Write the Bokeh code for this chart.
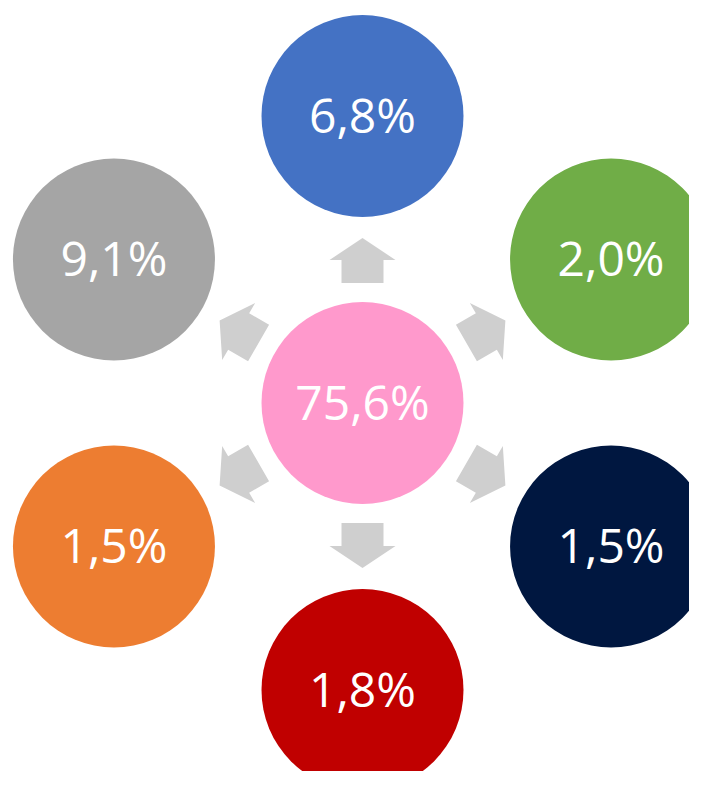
import math
from bokeh.plotting import figure
from bokeh.models import Range1d, ColumnDataSource
from bokeh.core.properties import value
from bokeh.embed import file_html
from bokeh.resources import INLINE

# ---- data ----
center_label_value = 75.6
center_color = "#FF99CC"
outer_values = [6.8, 2.0, 1.5, 1.8, 1.5, 9.1]
outer_colors = ["#4472C4", "#70AD47", "#001740", "#C00000", "#ED7D31", "#A5A5A5"]
outer_angles = [90, 30, -30, -90, -150, 150]

# ---- layout (image pixel space, y flipped) ----
CX, CY = 362.0, -402.5
RING = 287.0
RADIUS = 101.0
TEXT_DROP = 2.0
ARROW_COLOR = "#CFCFCF"
# arrow profile: (distance along ray, half offset)
arrow_profile = [(120, -21), (143, -21), (143, -33), (165, 0), (143, 33), (143, 21), (120, 21)]

def fmt(v):
    return ("%.1f" % v).replace(".", ",") + "%"

xs, ys, cols, texts = [CX], [CY], [center_color], [fmt(center_label_value)]
for v, c, a in zip(outer_values, outer_colors, outer_angles):
    r = math.radians(a)
    xs.append(CX + RING * math.cos(r))
    ys.append(CY + RING * math.sin(r))
    cols.append(c)
    texts.append(fmt(v))

ax, ay = [], []
for a in outer_angles:
    r = math.radians(a)
    ca, sa = math.cos(r), math.sin(r)
    px, py = [], []
    for s, t in arrow_profile:
        px.append(CX + s * ca - t * sa)
        py.append(CY + s * sa + t * ca)
    ax.append(px)
    ay.append(py)

p = figure(width=689, height=771, output_backend="svg", toolbar_location=None,
           x_range=Range1d(0, 689), y_range=Range1d(-771, 0), min_border=0)
p.axis.visible = False
p.grid.visible = False
p.outline_line_color = None
p.background_fill_color = "white"
p.border_fill_color = "white"

p.patches(ax, ay, fill_color=ARROW_COLOR, line_color=None)

src = ColumnDataSource(dict(x=xs, y=ys, color=cols, text=texts,
                            ty=[y + TEXT_DROP for y in ys]))
p.circle("x", "y", radius=RADIUS, fill_color="color", line_color=None, source=src)
p.text("x", "ty", text="text", source=src, text_align="center", text_baseline="middle",
       text_font=value("Open Sans"), text_font_size="48px", text_color="white")

open("out.html", "w").write(file_html(p, INLINE))
